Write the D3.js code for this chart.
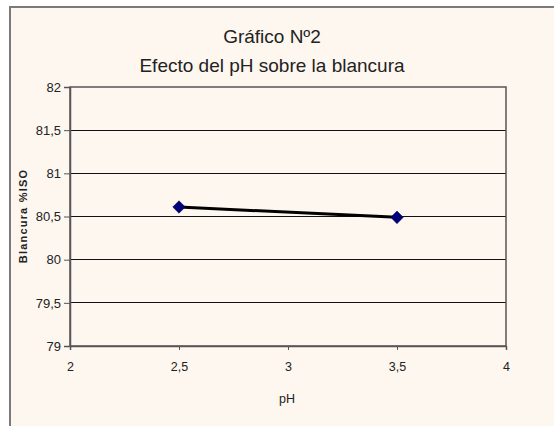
<!DOCTYPE html>
<html><head><meta charset="utf-8">
<script src="https://cdn.jsdelivr.net/npm/d3@7/dist/d3.min.js"></script>
<style>body{margin:0;background:#fff}svg{display:block}text{font-family:"Liberation Sans",Arial,sans-serif;fill:#222}</style>
</head><body><svg id="c" width="554" height="426"></svg>
<script>
const phValues = [2.5, 3.5];
const blancura = [80.61, 80.49];
const xTicks = [2, 2.5, 3, 3.5, 4];
const yTicks = [79, 79.5, 80, 80.5, 81, 81.5, 82];
const titleLines = ["Gráfico Nº2", "Efecto del pH sobre la blancura"];

const svg = d3.select("#c");
svg.append("rect").attr("x",10).attr("y",7).attr("width",560).attr("height",440)
  .attr("fill","#fef7f0").attr("stroke","#7a7a7a").attr("stroke-width",2);

const L=70,R=506,T=87,B=346;
const x = d3.scaleLinear().domain([2,4]).range([L,R]);
const y = d3.scaleLinear().domain([79,82]).range([B,T]);
const fmt = d => String(d).replace(".", ",");

svg.append("g").selectAll("line").data(yTicks.slice(1,-1)).join("line")
  .attr("x1",L).attr("x2",R).attr("y1",d=>y(d)).attr("y2",d=>y(d))
  .attr("stroke","#111").attr("stroke-width",1).attr("shape-rendering","crispEdges");
svg.append("rect").attr("x",L).attr("y",T).attr("width",R-L).attr("height",B-T)
  .attr("fill","none").attr("stroke","#555").attr("stroke-width",1.5);

const ya = svg.append("g").attr("transform",`translate(${L},0)`)
  .call(d3.axisLeft(y).tickValues(yTicks).tickFormat(fmt).tickSize(6).tickPadding(3));
const xa = svg.append("g").attr("transform",`translate(0,${B})`)
  .call(d3.axisBottom(x).tickValues(xTicks).tickFormat(fmt).tickSize(4).tickPadding(12));
[ya,xa].forEach(a=>{a.select(".domain").attr("stroke","#555").attr("stroke-width",1.5);
  a.selectAll(".tick line").attr("stroke","#555");
  a.selectAll("text").attr("fill","#222").style("font-family","'Liberation Sans',Arial,sans-serif");});
ya.selectAll("text").attr("font-size",13);
xa.selectAll("text").attr("font-size",12.5);

const pts = phValues.map((p,i)=>[p,blancura[i]]);
svg.append("path").datum(pts).attr("fill","none").attr("stroke","#000").attr("stroke-width",3)
  .attr("d", d3.line().x(d=>x(d[0])).y(d=>y(d[1])));
svg.append("g").selectAll("path").data(pts).join("path")
  .attr("transform",d=>`translate(${x(d[0])},${y(d[1])})`)
  .attr("d", d3.symbol(d3.symbolDiamond2, 100)).attr("fill","#00007a").attr("stroke","#000040").attr("stroke-width",0.5);

svg.append("g").selectAll("text").data(titleLines).join("text")
  .attr("x",272).attr("y",(d,i)=>43+i*29).attr("text-anchor","middle")
  .attr("font-size",19).text(d=>d);
svg.append("text").attr("x",287).attr("y",403).attr("text-anchor","middle").attr("font-size",12.5).text("pH");
svg.append("text").attr("transform","translate(27,216) rotate(-90)").attr("text-anchor","middle")
  .attr("font-size",11).attr("letter-spacing",1.2).attr("font-weight","bold").text("Blancura %ISO");
</script></body></html>
